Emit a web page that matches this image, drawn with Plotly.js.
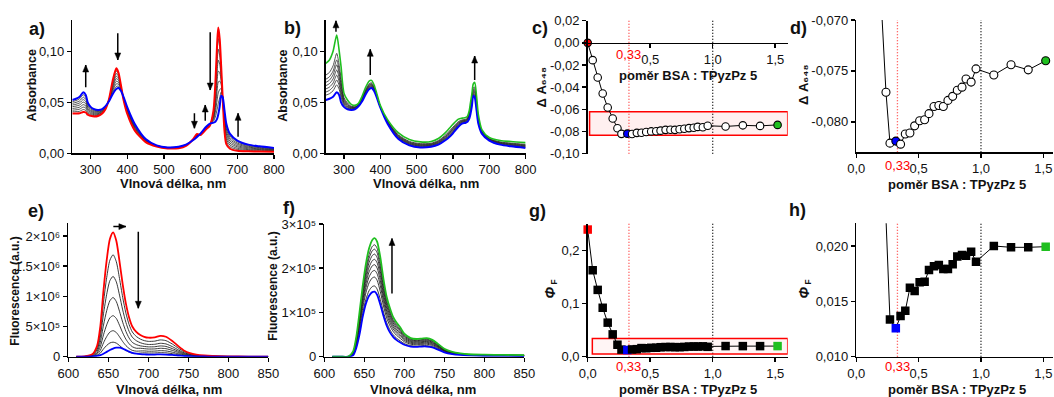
<!DOCTYPE html>
<html>
<head>
<meta charset="utf-8">
<script src="https://cdn.plot.ly/plotly-3.0.1.min.js"></script>
<style>html,body{margin:0;padding:0;background:#fff;}#chart{width:1054px;height:397px;}</style>
</head>
<body>
<div id="chart"></div>
<script>
// ---------- Absorption spectra (panels a, b) ----------
const wlAbs = [250,260,270,280,287,292,300,310,320,330,340,350,360,370,376,383,390,400,420,450,480,510,540,560,580,590,600,615,625,635,640,645,648,652,656,660,665,670,680,700,730,760,800];
const absRed = [.0390,.0390,.0392,.0405,.0400,.0378,.0368,.0360,.0365,.0385,.0430,.0530,.0710,.0833,.0790,.0660,.0520,.0385,.0225,.0110,.0066,.0048,.0050,.0072,.0140,.0190,.0180,.0235,.0270,.0420,.0680,.1080,.1233,.1120,.0850,.0550,.0220,.0090,.0045,.0025,.0020,.0018,.0016];
const absBlue = [.0523,.0535,.0555,.0598,.0570,.0500,.0455,.0432,.0425,.0430,.0460,.0510,.0580,.0630,.0640,.0610,.0550,.0450,.0290,.0140,.0078,.0058,.0065,.0085,.0130,.0160,.0196,.0260,.0290,.0300,.0310,.0340,.0380,.0460,.0565,.0550,.0420,.0290,.0190,.0125,.0085,.0068,.0052];
const absGreen = [.0882,.0915,.1000,.1160,.1000,.0850,.0590,.0520,.0480,.0470,.0490,.0560,.0650,.0710,.0715,.0670,.0590,.0470,.0330,.0200,.0135,.0112,.0115,.0145,.0205,.0245,.0285,.0335,.0345,.0350,.0365,.0420,.0490,.0580,.0680,.0695,.0560,.0380,.0230,.0155,.0125,.0115,.0105];
const absA1 = [.0407,.0408,.0412,.0429,.0421,.0393,.0379,.0369,.0373,.0391,.0434,.0528,.0694,.0808,.0771,.0654,.0524,.0393,.0233,.0114,.0068,.0049,.0052,.0074,.0139,.0186,.0182,.0238,.0273,.0405,.0634,.0988,.1126,.1038,.0814,.0550,.0245,.0115,.0063,.0038,.0028,.0024,.0021];
const absA2 = [.0423,.0426,.0433,.0453,.0443,.0409,.0390,.0378,.0380,.0396,.0438,.0525,.0678,.0782,.0753,.0648,.0528,.0401,.0241,.0118,.0069,.0051,.0054,.0075,.0138,.0183,.0184,.0241,.0275,.0390,.0588,.0895,.1020,.0955,.0779,.0550,.0270,.0140,.0081,.0050,.0036,.0031,.0025];
const absA3 = [.0440,.0444,.0453,.0477,.0464,.0424,.0401,.0387,.0388,.0402,.0441,.0523,.0661,.0757,.0734,.0641,.0531,.0409,.0249,.0121,.0071,.0052,.0056,.0077,.0136,.0179,.0186,.0244,.0278,.0375,.0541,.0803,.0913,.0873,.0743,.0550,.0295,.0165,.0099,.0063,.0044,.0037,.0030];
const absA4 = [.0457,.0463,.0474,.0502,.0485,.0439,.0412,.0396,.0395,.0408,.0445,.0520,.0645,.0732,.0715,.0635,.0535,.0418,.0258,.0125,.0072,.0053,.0058,.0079,.0135,.0175,.0188,.0248,.0280,.0360,.0495,.0710,.0807,.0790,.0708,.0550,.0320,.0190,.0118,.0075,.0053,.0043,.0034];
const absA5 = [.0473,.0481,.0494,.0526,.0506,.0454,.0422,.0405,.0403,.0413,.0449,.0518,.0629,.0706,.0696,.0629,.0539,.0426,.0266,.0129,.0074,.0054,.0059,.0080,.0134,.0171,.0190,.0251,.0283,.0345,.0449,.0618,.0700,.0708,.0672,.0550,.0345,.0215,.0136,.0088,.0061,.0049,.0038];
const absA6 = [.0490,.0499,.0514,.0550,.0528,.0470,.0433,.0414,.0410,.0419,.0453,.0515,.0613,.0681,.0678,.0623,.0543,.0434,.0274,.0133,.0075,.0056,.0061,.0082,.0133,.0168,.0192,.0254,.0285,.0330,.0403,.0525,.0593,.0625,.0636,.0550,.0370,.0240,.0154,.0100,.0069,.0056,.0043];
const absA7 = [.0506,.0517,.0535,.0574,.0549,.0485,.0444,.0423,.0418,.0424,.0456,.0513,.0596,.0655,.0659,.0616,.0546,.0442,.0282,.0136,.0077,.0057,.0063,.0083,.0131,.0164,.0194,.0257,.0288,.0315,.0356,.0433,.0487,.0543,.0601,.0550,.0395,.0265,.0172,.0113,.0077,.0062,.0048];
const absB1 = [.0570,.0584,.0613,.0671,.0626,.0546,.0473,.0443,.0432,.0435,.0464,.0517,.0589,.0640,.0650,.0618,.0555,.0453,.0295,.0148,.0085,.0065,.0072,.0093,.0140,.0171,.0208,.0270,.0297,.0307,.0317,.0350,.0394,.0476,.0580,.0569,.0438,.0302,.0195,.0129,.0090,.0074,.0059];
const absB2 = [.0600,.0617,.0651,.0719,.0663,.0575,.0484,.0451,.0437,.0439,.0467,.0521,.0595,.0647,.0656,.0623,.0559,.0454,.0299,.0153,.0090,.0070,.0076,.0098,.0146,.0178,.0215,.0276,.0302,.0311,.0322,.0357,.0404,.0486,.0590,.0581,.0450,.0309,.0199,.0132,.0094,.0078,.0063];
const absB3 = [.0631,.0649,.0689,.0767,.0699,.0605,.0496,.0458,.0442,.0442,.0469,.0525,.0601,.0654,.0663,.0628,.0562,.0456,.0302,.0158,.0095,.0074,.0080,.0103,.0153,.0186,.0223,.0283,.0307,.0315,.0327,.0364,.0413,.0496,.0600,.0594,.0462,.0317,.0202,.0134,.0097,.0082,.0068];
const absB4 = [.0663,.0683,.0729,.0817,.0738,.0637,.0508,.0466,.0447,.0446,.0472,.0530,.0607,.0661,.0669,.0633,.0566,.0458,.0306,.0163,.0100,.0079,.0085,.0108,.0159,.0193,.0231,.0289,.0312,.0320,.0332,.0371,.0423,.0507,.0610,.0607,.0475,.0325,.0206,.0137,.0101,.0086,.0073];
const absB5 = [.0695,.0717,.0769,.0868,.0776,.0668,.0520,.0474,.0451,.0449,.0474,.0534,.0614,.0668,.0676,.0639,.0569,.0460,.0309,.0169,.0105,.0084,.0089,.0114,.0166,.0201,.0239,.0296,.0316,.0324,.0336,.0378,.0433,.0518,.0620,.0620,.0487,.0333,.0209,.0139,.0104,.0091,.0077];
const absB6 = [.0726,.0750,.0806,.0916,.0813,.0698,.0531,.0482,.0456,.0453,.0477,.0538,.0620,.0675,.0682,.0644,.0573,.0461,.0313,.0174,.0110,.0089,.0093,.0119,.0172,.0208,.0246,.0302,.0321,.0328,.0341,.0385,.0442,.0528,.0630,.0632,.0499,.0341,.0213,.0142,.0108,.0095,.0082];
const absB7 = [.0767,.0793,.0858,.0980,.0862,.0738,.0547,.0492,.0462,.0457,.0480,.0544,.0628,.0684,.0691,.0651,.0577,.0464,.0317,.0181,.0117,.0095,.0099,.0126,.0181,.0218,.0257,.0311,.0327,.0334,.0347,.0394,.0455,.0542,.0643,.0649,.0515,.0351,.0217,.0145,.0112,.0100,.0088];

// ---------- Fluorescence spectra (panel e, values in 10^6; panel f, values in 10^5) ----------
const wlFluE = [610,620,630,636,640,644,648,652,656,660,664,668,672,676,680,685,690,695,700,708,715,722,730,738,745,752,760,770,780,800,825,850];
const fluERed = [0,.005,.04,.18,.50,1.10,1.60,1.95,2.06,1.92,1.58,1.20,.88,.65,.50,.41,.36,.33,.315,.32,.345,.33,.26,.17,.10,.06,.035,.02,.012,.005,.002,.001];
const fluE1 = [0,.004,.033,.148,.41,.902,1.312,1.599,1.689,1.574,1.296,.984,.722,.533,.41,.335,.292,.266,.254,.258,.278,.266,.21,.137,.081,.048,.028,.016,.01,.004,.002,.001];
const fluE2 = [0,.003,.026,.116,.323,.711,1.034,1.26,1.331,1.24,1.021,.775,.568,.42,.323,.265,.232,.212,.203,.206,.222,.212,.167,.109,.064,.039,.023,.013,.008,.003,.001,.001];
const fluE3 = [0,.002,.019,.086,.238,.524,.762,.928,.981,.914,.752,.571,.419,.309,.238,.20,.18,.17,.163,.165,.178,.17,.134,.088,.052,.031,.018,.01,.006,.003,.001,.001];
const fluE4 = [0,.002,.013,.059,.165,.363,.528,.644,.68,.634,.521,.396,.29,.215,.165,.14,.14,.133,.127,.129,.139,.133,.105,.069,.04,.024,.014,.008,.005,.002,.001,0];
const fluE5 = [0,.001,.008,.038,.105,.23,.334,.408,.431,.401,.33,.251,.184,.136,.105,.092,.095,.096,.091,.093,.10,.096,.075,.049,.029,.017,.01,.006,.003,.001,0,0];
const fluE6 = [0,.001,.005,.021,.059,.129,.187,.228,.241,.225,.185,.14,.103,.076,.059,.054,.06,.064,.061,.062,.067,.064,.05,.033,.019,.012,.007,.004,.002,.001,0,0];
const fluEBlue = [0,0,.003,.012,.025,.05,.08,.11,.135,.149,.15,.135,.11,.085,.065,.05,.042,.038,.036,.036,.038,.036,.03,.02,.012,.008,.005,.003,.002,.001,0,0];

const wlFluF = [610,620,630,636,640,644,648,652,656,660,663,666,670,674,678,682,686,690,695,700,708,715,722,728,735,742,750,760,770,780,800,825,850];
const fluFGreen = [0,0,.005,.12,.45,1.0,1.6,2.1,2.45,2.64,2.68,2.6,2.25,1.75,1.35,1.1,.9,.78,.66,.52,.42,.40,.41,.42,.38,.29,.18,.11,.075,.055,.045,.04,.035];
const fluFBlue = [0,0,0,.03,.2,.5,.9,1.2,1.38,1.46,1.47,1.4,1.18,.92,.7,.55,.45,.38,.32,.27,.23,.22,.23,.23,.21,.16,.10,.06,.04,.03,.02,.02,.015];
const fluF1 = [0,0,.001,.040,.227,.554,.975,1.296,1.494,1.586,1.599,1.528,1.294,1.009,.770,.609,.498,.423,.356,.297,.250,.239,.249,.250,.228,.174,.109,.065,.044,.033,.023,.022,.017];
const fluF2 = [0,0,.001,.055,.268,.637,1.091,1.446,1.672,1.782,1.800,1.728,1.472,1.147,.877,.700,.573,.489,.413,.338,.282,.269,.279,.282,.256,.195,.122,.074,.050,.037,.027,.025,.020];
const fluF3 = [0,0,.002,.066,.299,.699,1.178,1.557,1.805,1.928,1.950,1.876,1.605,1.250,.958,.768,.629,.539,.455,.369,.305,.291,.301,.305,.277,.212,.132,.080,.054,.040,.030,.028,.023];
const fluF4 = [0,0,.003,.075,.326,.752,1.253,1.654,1.919,2.055,2.080,2.005,1.719,1.338,1.028,.827,.677,.582,.491,.396,.326,.311,.321,.326,.296,.226,.140,.085,.058,.043,.033,.030,.025];
const fluF5 = [0,0,.003,.084,.351,.802,1.322,1.743,2.025,2.172,2.200,2.124,1.825,1.420,1.092,.882,.721,.621,.525,.421,.345,.329,.339,.345,.313,.238,.148,.090,.061,.045,.035,.032,.027];
const fluF6 = [0,0,.004,.093,.376,.851,1.391,1.832,2.131,2.288,2.319,2.242,1.931,1.503,1.156,.936,.766,.661,.559,.446,.363,.346,.356,.363,.329,.251,.156,.095,.065,.048,.038,.034,.029];
const fluF7 = [0,0,.004,.101,.398,.897,1.455,1.914,2.229,2.396,2.430,2.352,2.029,1.578,1.215,.986,.807,.697,.590,.468,.381,.363,.373,.381,.345,.263,.163,.100,.068,.050,.040,.036,.031];
const fluF8 = [0,0,.004,.109,.419,.938,1.513,1.988,2.317,2.494,2.530,2.451,2.117,1.647,1.269,1.032,.844,.730,.618,.489,.396,.378,.388,.396,.359,.274,.170,.104,.071,.052,.042,.038,.033];

// ---------- Titration (panels c, d, g, h) ----------
const ratio = [0,0.04,0.08,0.12,0.16,0.20,0.238,0.270,0.317,0.355,0.393,0.430,0.468,0.508,0.548,0.583,0.623,0.662,0.698,0.735,0.773,0.810,0.848,0.880,0.921,0.960,1.103,1.241,1.379,1.519];
const dA648 = [0,-0.0156,-0.0313,-0.0457,-0.0583,-0.0683,-0.0771,-0.0821,-0.0819,-0.0822,-0.0812,-0.0811,-0.0804,-0.0799,-0.0798,-0.0792,-0.0785,-0.0784,-0.0785,-0.0779,-0.0775,-0.0769,-0.0766,-0.0758,-0.0761,-0.0748,-0.0754,-0.0744,-0.0749,-0.0740];
const phiF = [0.239,0.1625,0.1256,0.092,0.064,0.042,0.0225,0.01337,0.01256,0.01367,0.01416,0.01623,0.01593,0.01672,0.01678,0.01783,0.01816,0.01828,0.01792,0.01792,0.01834,0.01904,0.01919,0.01913,0.01949,0.01858,0.0200,0.01988,0.01988,0.01994];
const startIdx = 0, eqIdx = 8; // red = free dye, blue = ratio 0.33
const ratioMark = 0.33, ratioOne = 1.0;

// ---------- Tick labels ----------
const absXTicks = [300,400,500,600,700,800];
const absYTicks = [0,0.05,0.10];
const absYLabels = ['0,00','0,05','0,10'];
const fluXTicks = [600,650,700,750,800,850];
const fluEYTicks = [0,0.5,1,1.5,2];
const fluEYLabels = ['0','5×10⁵','1×10⁶','1.5×10⁶','2×10⁶'];
const fluFYTicks = [0,1,2,3];
const fluFYLabels = ['0','1×10⁵','2×10⁵','3×10⁵'];
const cXTicks = [0.5,1.0,1.5];
const cXLabels = ['0,5','1,0','1,5'];
const ratioTicks = [0,0.5,1.0,1.5];
const ratioLabels = ['0,0','0,5','1,0','1,5'];
const cYTicks = [0.02,0,-0.02,-0.04,-0.06,-0.08,-0.10];
const cYLabels = ['0,02','0,00','-0,02','-0,04','-0,06','-0,08','-0,10'];
const dYTicks = [-0.070,-0.075,-0.080];
const dYLabels = ['-0,070','-0,075','-0,080'];
const gYTicks = [0,0.1,0.2];
const gYLabels = ['0,0','0,1','0,2'];
const hYTicks = [0.010,0.015,0.020];
const hYLabels = ['0,010','0,015','0,020'];

// ---------- Styling ----------
const FONT = 'Liberation Sans, Arial, Helvetica, sans-serif';
const RED = '#ff0000', BLUE = '#0000ff', GREEN = '#1fbf1f';
const W = 1054, H = 397;
const px = v => v / W;
const py = v => 1 - v / H;

const traces = [];
function spec(xa, ya, x, y, color, width) {
  traces.push({x: x, y: y, xaxis: xa, yaxis: ya, type: 'scatter', mode: 'lines',
    line: {color: color, width: width, shape: 'spline', smoothing: 0.7}, hoverinfo: 'skip'});
}
[absA1,absA2,absA3,absA4,absA5,absA6,absA7].forEach(c => spec('x','y',wlAbs,c,'#2a2a2a',0.8));
spec('x','y',wlAbs,absRed,RED,2);
spec('x','y',wlAbs,absBlue,BLUE,2);
[absB1,absB2,absB3,absB4,absB5,absB6,absB7].forEach(c => spec('x2','y2',wlAbs,c,'#2a2a2a',0.8));
spec('x2','y2',wlAbs,absBlue,BLUE,2);
spec('x2','y2',wlAbs,absGreen,GREEN,1.6);
[fluE1,fluE2,fluE3,fluE4,fluE5,fluE6].forEach(c => spec('x5','y5',wlFluE,c,'#222',0.9));
spec('x5','y5',wlFluE,fluERed,RED,1.8);
spec('x5','y5',wlFluE,fluEBlue,BLUE,1.8);
[fluF1,fluF2,fluF3,fluF4,fluF5,fluF6,fluF7,fluF8].forEach(c => spec('x6','y6',wlFluF,c,'#222',0.9));
spec('x6','y6',wlFluF,fluFBlue,BLUE,1.8);
spec('x6','y6',wlFluF,fluFGreen,GREEN,1.8);

function colorsFor(n, base) {
  const c = new Array(n).fill(base);
  c[startIdx] = RED; c[eqIdx] = BLUE; c[n - 1] = GREEN;
  return c;
}
function titration(xa, ya, y, symbol, size, base, clip) {
  const isSq = symbol === 'square';
  traces.push({x: ratio, y: y, xaxis: xa, yaxis: ya, type: 'scatter', mode: 'lines+markers',
    cliponaxis: clip, hoverinfo: 'skip',
    line: {color: '#000', width: 1},
    marker: {symbol: symbol, size: size, color: colorsFor(ratio.length, base),
      line: {color: '#000', width: isSq ? 0 : 1.1}}});
}
titration('x3','y3',dA648,'circle',7.5,'#fff',false);
titration('x4','y4',dA648,'circle',8,'#fff',true);
titration('x7','y7',phiF,'square',8.5,'#000',false);
titration('x8','y8',phiF,'square',8.5,'#000',true);

function ax(extra) {
  return Object.assign({showline: true, linecolor: '#000', linewidth: 1.5, ticks: 'outside', ticklen: 4,
    tickwidth: 1.5, tickcolor: '#000', showgrid: false, zeroline: false, fixedrange: true,
    tickmode: 'array', tickfont: {family: FONT, size: 13, color: '#111'}}, extra);
}

const layout = {
  width: W, height: H, margin: {l: 0, r: 0, t: 0, b: 0},
  paper_bgcolor: '#fff', plot_bgcolor: 'rgba(0,0,0,0)', showlegend: false,
  font: {family: FONT, color: '#000'},
  xaxis:  ax({domain: [px(72.3), px(274)], range: [250, 800], anchor: 'y', tickvals: absXTicks, ticktext: absXTicks.map(String)}),
  yaxis:  ax({domain: [py(153.3), py(20)], range: [0, 0.1307], anchor: 'x', tickvals: absYTicks, ticktext: absYLabels}),
  xaxis2: ax({domain: [px(325.8), px(525.6)], range: [250, 800], anchor: 'y2', tickvals: absXTicks, ticktext: absXTicks.map(String)}),
  yaxis2: ax({domain: [py(153.3), py(20)], range: [0, 0.1307], anchor: 'x2', tickvals: absYTicks, ticktext: absYLabels}),
  xaxis3: ax({domain: [px(587.7), px(787.7)], range: [0, 1.6], anchor: 'free', position: py(42.9), tickvals: cXTicks, ticktext: cXLabels}),
  yaxis3: ax({domain: [py(153.7), py(20.7)], range: [-0.10, 0.02], anchor: 'x3', tickvals: cYTicks, ticktext: cYLabels}),
  xaxis4: ax({domain: [px(856.3), px(1053.3)], range: [0, 1.58], anchor: 'y4', tickvals: ratioTicks, ticktext: ratioLabels}),
  yaxis4: ax({domain: [py(152.3), py(20)], range: [-0.083, -0.070], anchor: 'x4', tickvals: dYTicks, ticktext: dYLabels}),
  xaxis5: ax({domain: [px(68.3), px(268.3)], range: [600, 850], anchor: 'y5', tickvals: fluXTicks, ticktext: fluXTicks.map(String)}),
  yaxis5: ax({domain: [py(356.7), py(223.3)], range: [0, 2.21], anchor: 'x5', tickvals: fluEYTicks, ticktext: fluEYLabels}),
  xaxis6: ax({domain: [px(324.3), px(524.3)], range: [600, 850], anchor: 'y6', tickvals: fluXTicks, ticktext: fluXTicks.map(String)}),
  yaxis6: ax({domain: [py(356.7), py(224)], range: [0, 3], anchor: 'x6', tickvals: fluFYTicks, ticktext: fluFYLabels}),
  xaxis7: ax({domain: [px(587.7), px(787.7)], range: [0, 1.6], anchor: 'y7', tickvals: ratioTicks, ticktext: ratioLabels}),
  yaxis7: ax({domain: [py(356.7), py(223.7)], range: [0, 0.25], anchor: 'x7', tickvals: gYTicks, ticktext: gYLabels}),
  xaxis8: ax({domain: [px(856.3), px(1053.3)], range: [0, 1.58], anchor: 'y8', tickvals: ratioTicks, ticktext: ratioLabels}),
  yaxis8: ax({domain: [py(356.7), py(223.3)], range: [0.010, 0.02205], anchor: 'x8', tickvals: hYTicks, ticktext: hYLabels}),
  shapes: [],
  annotations: []
};

// reference lines and highlight boxes
[['x3','y3'],['x4','y4'],['x7','y7'],['x8','y8']].forEach(([xa, ya]) => {
  layout.shapes.push({type: 'line', xref: xa, yref: ya + ' domain', x0: ratioMark, x1: ratioMark, y0: 0, y1: 1,
    line: {color: 'rgba(255,40,40,0.9)', width: 1.3, dash: '1px,2px'}, layer: 'below'});
  layout.shapes.push({type: 'line', xref: xa, yref: ya + ' domain', x0: ratioOne, x1: ratioOne, y0: 0, y1: 1,
    line: {color: '#000', width: 1.3, dash: '1px,2px'}, layer: 'below'});
});
layout.shapes.push({type: 'rect', xref: 'x3', yref: 'y3', x0: 0.015, x1: 1.6, y0: -0.0833, y1: -0.0622,
  line: {color: RED, width: 1.5}, fillcolor: 'rgba(255,0,0,0.06)', layer: 'below'});
layout.shapes.push({type: 'rect', xref: 'x7', yref: 'y7', x0: 0.037, x1: 1.6, y0: 0.005, y1: 0.0344,
  line: {color: RED, width: 1.5}, fillcolor: 'rgba(255,0,0,0.04)', layer: 'below'});

// arrows as shapes: shaft in data coordinates, head as a pixel-sized triangle anchored at the tip
function arrow(xa, ya, x, y, axv, ayv) {
  layout.shapes.push({type: 'line', xref: xa, yref: ya, x0: axv, y0: ayv, x1: x, y1: y,
    line: {color: '#000', width: 1.5}, layer: 'above'});
  let path;
  if (axv === x) path = (y > ayv) ? 'M-3,-7 L3,-7 L0,0 Z' : 'M-3,7 L3,7 L0,0 Z';
  else path = (x > axv) ? 'M-7,-3 L-7,3 L0,0 Z' : 'M7,-3 L7,3 L0,0 Z';
  layout.shapes.push({type: 'path', xref: xa, yref: ya, xsizemode: 'pixel', ysizemode: 'pixel',
    xanchor: x, yanchor: y, path: path, fillcolor: '#000', line: {color: '#000', width: 0.5}, layer: 'above'});
}
arrow('x','y',286.6,0.0866,286.6,0.0647);
arrow('x','y',374,0.0915,374,0.1176);
arrow('x','y',583,0.0245,583,0.0392);
arrow('x','y',612.5,0.0474,612.5,0.032);
arrow('x','y',626,0.062,626,0.1186);
arrow('x','y',702,0.0392,702,0.0163);
arrow('x2','y2',278,0.1299,278,0.1192);
arrow('x2','y2',372.4,0.102,372.4,0.0768);
arrow('x2','y2',659.8,0.0954,659.8,0.0719);
arrow('x5','y5',672,2.155,656.3,2.155);
arrow('x5','y5',687.5,0.802,687.5,2.072);
arrow('x6','y6',684.6,2.673,684.6,1.431);

const A = layout.annotations;
function txt(x, y, text, size, angle) {
  A.push({xref: 'paper', yref: 'paper', x: px(x), y: py(y), text: text, showarrow: false,
    xanchor: 'center', yanchor: 'middle', textangle: angle || 0,
    font: {family: FONT, size: size, color: '#111'}});
}
// panel labels
txt(36.7, 29, '<b>a)</b>', 18); txt(292, 27.5, '<b>b)</b>', 18); txt(540, 28.3, '<b>c)</b>', 18); txt(798, 28, '<b>d)</b>', 18);
txt(36, 211, '<b>e)</b>', 18); txt(289, 208, '<b>f)</b>', 18); txt(538, 211, '<b>g)</b>', 18); txt(797, 210, '<b>h)</b>', 18);
// axis titles
const wlTitle = '<b>Vlnová délka, nm</b>';
const ratioTitle = '<b>poměr BSA : TPyzPz 5</b>';
txt(172.7, 183, wlTitle, 13); txt(426, 183, wlTitle, 13);
txt(169, 389, wlTitle, 13); txt(423, 389, wlTitle, 13);
txt(688, 75, ratioTitle, 13); txt(956.5, 184.5, ratioTitle, 13);
txt(688, 389, ratioTitle, 13); txt(956.5, 389, ratioTitle, 13);
txt(31.7, 85.7, '<b>Absorbance</b>', 12.5, -90); txt(283, 85.7, '<b>Absorbance</b>', 12.5, -90);
txt(541, 87.5, '<b>Δ A₆₄₈</b>', 13, -90); txt(803, 85, '<b>Δ A₆₄₈</b>', 13, -90);
txt(15, 291.7, '<b>Fluorescence (a.u.)</b>', 12, -90); txt(273, 286.7, '<b>Fluorescence (a.u.)</b>', 12, -90);
// Φ with subscript F (two pieces, rotated)
txt(549, 292.5, '<b><i>Φ</i></b>', 14, -90); txt(553.5, 282, '<b>F</b>', 8.5, -90);
txt(803, 292.5, '<b><i>Φ</i></b>', 14, -90); txt(807.5, 282, '<b>F</b>', 8.5, -90);
// red 0,33 labels
[['x3', 54], ['x4', 165], ['x7', 366.7], ['x8', 366.7]].forEach(([xa, yy]) => {
  A.push({xref: xa, yref: 'paper', x: ratioMark, y: py(yy), text: '0,33', showarrow: false,
    xanchor: 'center', yanchor: 'middle', font: {family: FONT, size: 13, color: RED}});
});

Plotly.newPlot('chart', traces, layout, {staticPlot: true, displayModeBar: false});
</script>
</body>
</html>
